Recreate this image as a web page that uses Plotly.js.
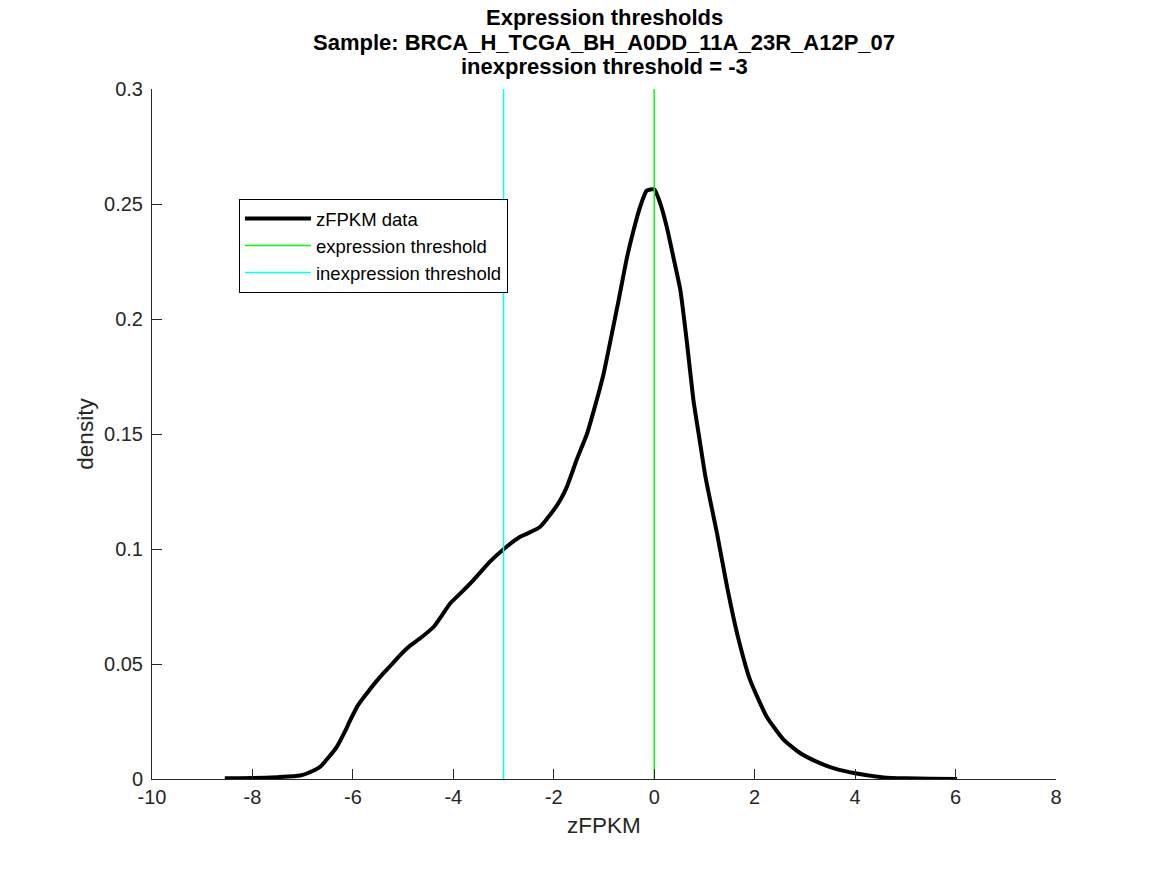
<!DOCTYPE html>
<html>
<head>
<meta charset="utf-8">
<script src="https://cdn.plot.ly/plotly-3.0.1.min.js"></script>
<style>html,body{margin:0;padding:0;background:#fff;}#chart{width:1167px;height:875px;}</style>
</head>
<body>
<div id="chart"></div>
<script>
// zFPKM density curve
const zfpkmX = [-8.55, -8.0, -7.5, -7.05, -6.8, -6.65, -6.5, -6.32, -6.15, -6.05, -5.9, -5.72, -5.55, -5.39, -5.22, -5.06, -4.86, -4.66, -4.39, -4.06, -3.8, -3.6, -3.27, -3.0, -2.67, -2.4, -2.27, -2.14, -2.0, -1.87, -1.74, -1.54, -1.34, -1.18, -1.01, -0.84, -0.71, -0.54, -0.41, -0.28, -0.15, 0.0, 0.12, 0.25, 0.38, 0.52, 0.65, 0.78, 0.9, 1.02, 1.25, 1.45, 1.65, 1.91, 2.24, 2.58, 2.91, 3.31, 3.6, 4.0, 4.57, 5.0, 5.5, 6.03];
const densityY = [0.0003, 0.0004, 0.0008, 0.0015, 0.0035, 0.0053, 0.009, 0.014, 0.021, 0.0257, 0.032, 0.0373, 0.042, 0.046, 0.050, 0.0539, 0.058, 0.0612, 0.0662, 0.0764, 0.082, 0.0865, 0.0945, 0.0999, 0.1053, 0.108, 0.1097, 0.113, 0.117, 0.1213, 0.127, 0.139, 0.150, 0.162, 0.176, 0.194, 0.208, 0.227, 0.2387, 0.2488, 0.2558, 0.2564, 0.2503, 0.240, 0.227, 0.2126, 0.19, 0.1648, 0.148, 0.1314, 0.1068, 0.0836, 0.0633, 0.043, 0.0271, 0.017, 0.0112, 0.0068, 0.0045, 0.0025, 0.0007, 0.0003, 0.0001, 0.0];

// thresholds
const expressionThreshold = 0;
const inexpressionThreshold = -3;
const yRange = [0, 0.3];
const xRange = [-10, 8];

// tick labels
const xTickVals = [-10, -8, -6, -4, -2, 0, 2, 4, 6, 8];
const xTickText = ["-10", "-8", "-6", "-4", "-2", "0", "2", "4", "6", "8"];
const yTickVals = [0, 0.05, 0.1, 0.15, 0.2, 0.25, 0.3];
const yTickText = ["0", "0.05", "0.1", "0.15", "0.2", "0.25", "0.3"];

const seriesNames = ["zFPKM data", "expression threshold", "inexpression threshold"];
const titleLines = ["Expression thresholds", "Sample: BRCA_H_TCGA_BH_A0DD_11A_23R_A12P_07", "inexpression threshold = -3"];

const FONT = "Liberation Sans, Arial, Helvetica, sans-serif";
const AX = "#262626";

const traces = [
  {x: zfpkmX, y: densityY, type: "scatter", mode: "lines", name: seriesNames[0],
   line: {color: "#000000", width: 4, shape: "spline", smoothing: 0.5}},
  {x: [expressionThreshold, expressionThreshold], y: yRange, type: "scatter", mode: "lines", name: seriesNames[1],
   line: {color: "#00FF00", width: 1.5}},
  {x: [inexpressionThreshold, inexpressionThreshold], y: yRange, type: "scatter", mode: "lines", name: seriesNames[2],
   line: {color: "#00FFFF", width: 1.5}}
];

// title lines placed as centered text above the plot area
const titleY = [1.1029, 1.0667, 1.0319];
const annotations = titleLines.map((t, i) => ({
  text: "<b>" + t + "</b>", xref: "paper", yref: "paper", x: 0.5, y: titleY[i],
  xanchor: "center", yanchor: "middle", showarrow: false,
  font: {family: FONT, size: 22, color: "#000"}
}));

const layout = {
  width: 1167, height: 875,
  paper_bgcolor: "#fff", plot_bgcolor: "#fff",
  margin: {l: 152, r: 111, t: 89, b: 96},
  font: {family: FONT, color: AX},
  annotations: annotations,
  xaxis: {
    range: xRange, tickmode: "array", tickvals: xTickVals, ticktext: xTickText,
    showgrid: false, zeroline: false, showline: true, linecolor: AX, linewidth: 1,
    ticks: "inside", ticklen: 10, tickcolor: AX, tickwidth: 1,
    tickfont: {family: FONT, size: 20, color: AX},
    title: {text: "zFPKM", font: {family: FONT, size: 22.5, color: AX}, standoff: 10}
  },
  yaxis: {
    range: yRange, tickmode: "array", tickvals: yTickVals, ticktext: yTickText,
    showgrid: false, zeroline: false, showline: true, linecolor: AX, linewidth: 1,
    ticks: "inside", ticklen: 10, tickcolor: AX, tickwidth: 1,
    ticklabelstandoff: 4,
    tickfont: {family: FONT, size: 20, color: AX},
    title: {text: "density", font: {family: FONT, size: 22.5, color: AX}, standoff: 4}
  },
  showlegend: true,
  legend: {
    x: 0.0962, y: 0.8406, xanchor: "left", yanchor: "top",
    bgcolor: "#fff", bordercolor: "#000", borderwidth: 1,
    font: {family: FONT, size: 18.5, color: "#000"},
    itemwidth: 66, tracegroupgap: 0
  }
};

Plotly.newPlot("chart", traces, layout, {displayModeBar: false, staticPlot: true});
</script>
</body>
</html>
